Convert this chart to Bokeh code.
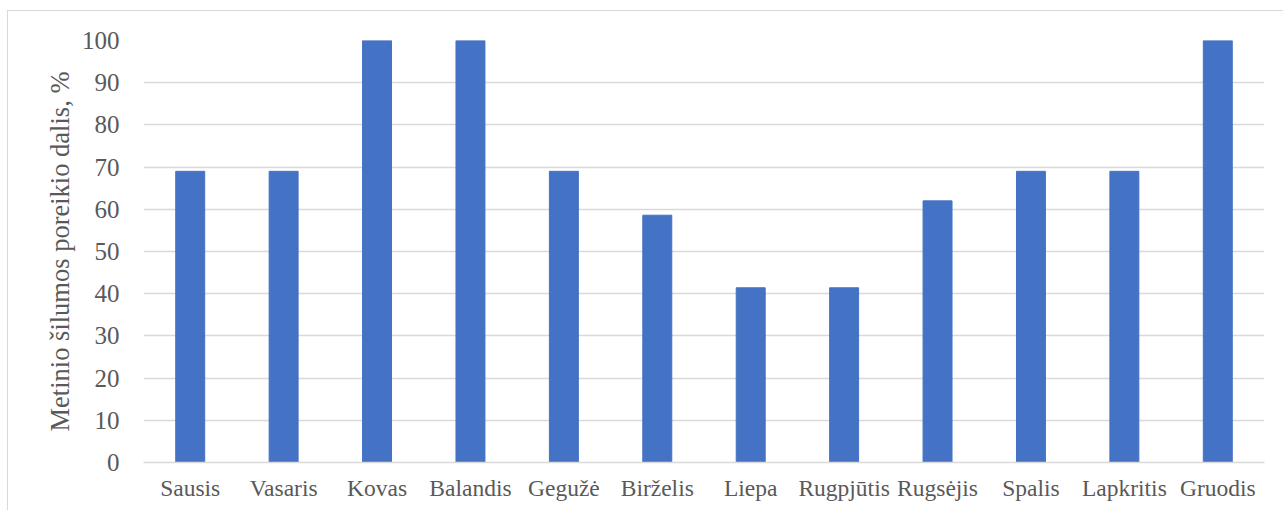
from bokeh.plotting import figure
from bokeh.models import FixedTicker
from bokeh.embed import file_html
from bokeh.resources import INLINE

# Monthly share of the annual heat demand, %
months = ["Sausis", "Vasaris", "Kovas", "Balandis", "Gegužė", "Birželis",
          "Liepa", "Rugpjūtis", "Rugsėjis", "Spalis", "Lapkritis", "Gruodis"]
shares = [69, 69, 100, 100, 69, 58.6, 41.4, 41.4, 62, 69, 69, 100]
y_ticks = [0, 10, 20, 30, 40, 50, 60, 70, 80, 90, 100]

FONT = "Liberation Serif"
TEXT = "#595959"
GRID = "#d9d9d9"

p = figure(
    x_range=months, y_range=(0, 100),
    width=1276, height=500,
    output_backend="svg", toolbar_location=None,
    min_border_left=135, min_border_right=20,
    min_border_top=29, min_border_bottom=49,
    margin=(10, 0, 0, 7),
    styles={"border-top": f"1px solid {GRID}", "border-left": f"1px solid {GRID}"},
)

p.vbar(x=months, top=shares, width=0.31, color="#4472C4")

p.outline_line_color = None
p.xgrid.grid_line_color = None
p.ygrid.grid_line_color = GRID
p.ygrid.grid_line_width = 1.5
p.yaxis.ticker = FixedTicker(ticks=y_ticks)

for ax in (p.xaxis, p.yaxis):
    ax.major_label_text_font = FONT
    ax.major_label_text_font_size = "24px"
    ax.major_label_text_color = TEXT
    ax.major_tick_line_color = None
    ax.minor_tick_line_color = None
    ax.major_tick_out = 0
    ax.major_tick_in = 0

p.xaxis.major_label_text_font_size = "23.5px"
p.yaxis.major_label_text_font_size = "25px"

p.yaxis.axis_line_color = None
p.xaxis.axis_line_color = GRID
p.xaxis.axis_line_width = 1.5
p.xaxis.major_label_standoff = 12
p.yaxis.major_label_standoff = 24

p.yaxis.axis_label = "Metinio šilumos poreikio dalis, %"
p.yaxis.axis_label_text_font = FONT
p.yaxis.axis_label_text_font_size = "26.5px"
p.yaxis.axis_label_text_font_style = "normal"
p.yaxis.axis_label_text_color = TEXT
p.yaxis.axis_label_standoff = 4

p.x_range.range_padding = 0
p.y_range.start = 0
p.y_range.end = 100

open("out.html", "w").write(file_html(p, INLINE))
